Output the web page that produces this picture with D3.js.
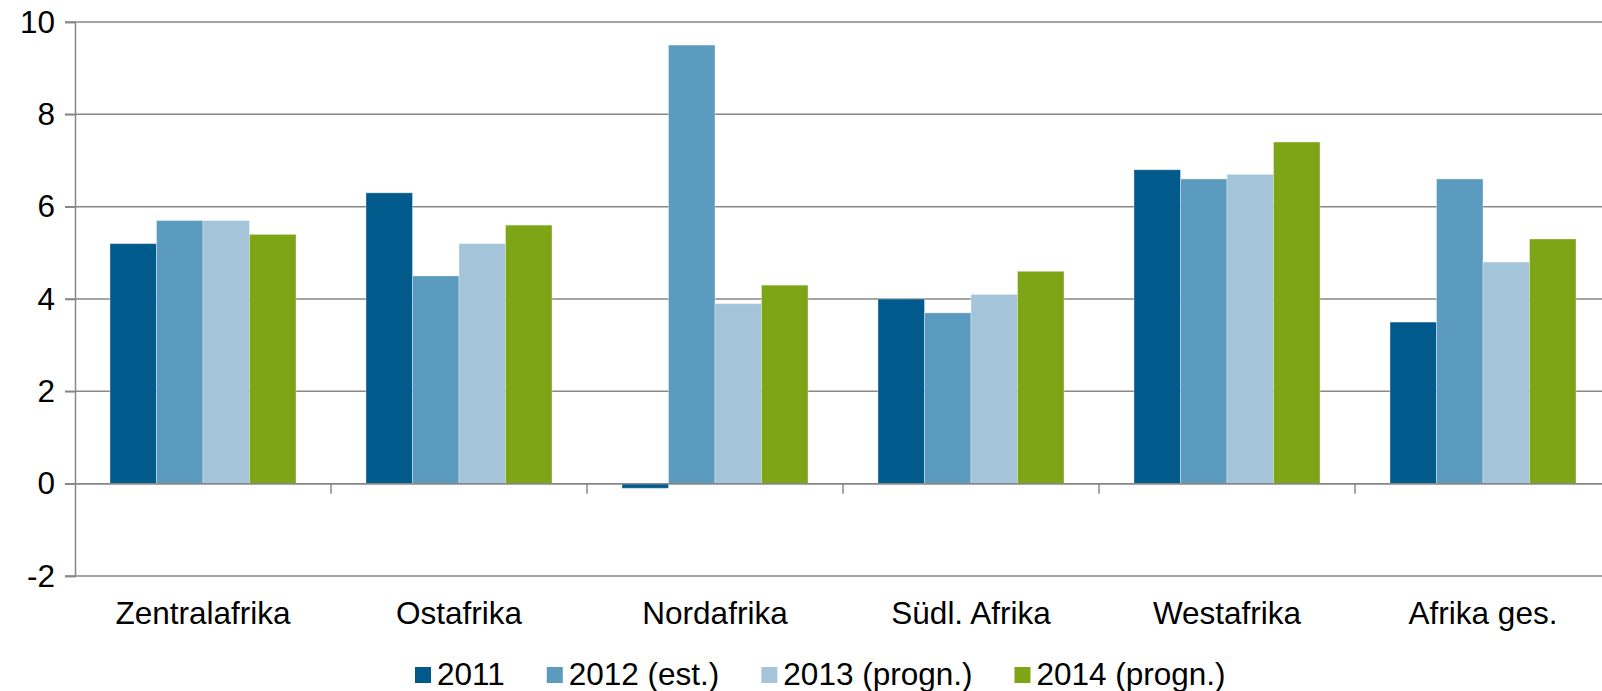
<!DOCTYPE html>
<html>
<head>
<meta charset="utf-8">
<script src="https://cdn.jsdelivr.net/npm/d3@7"></script>
<style>
	body { margin: 0; background: #fff; overflow: hidden; }
	text { font-family: "Liberation Sans", Arial, sans-serif; fill: #000; }
</style>
</head>
<body>
<script>
// * Data
const categories = ["Zentralafrika", "Ostafrika", "Nordafrika", "Südl. Afrika", "Westafrika", "Afrika ges."];
const seriesNames = ["2011", "2012 (est.)", "2013 (progn.)", "2014 (progn.)"];
const values2011 = [5.2, 6.3, -0.1, 4.0, 6.8, 3.5];
const values2012 = [5.7, 4.5, 9.5, 3.7, 6.6, 6.6];
const values2013 = [5.7, 5.2, 3.9, 4.1, 6.7, 4.8];
const values2014 = [5.4, 5.6, 4.3, 4.6, 7.4, 5.3];
const yTicks = [-2, 0, 2, 4, 6, 8, 10];
const colors = ["#005a8c", "#5b9bbf", "#a3c4d9", "#7da515"];

const allSeries = [values2011, values2012, values2013, values2014];

// * Size & Margins
let width = 1602;
let height = 691;
const plot = { left: 75, right: 1611, top: 22, bottom: 576 };

var svg = d3
	.select("body")
	.append("svg")
	.attr("width", width)
	.attr("height", height);

// * Scales
const x0 = d3
	.scaleBand()
	.domain(categories)
	.range([plot.left, plot.right])
	.paddingInner(0.2734)
	.paddingOuter(0.1367);

const x1 = d3
	.scaleBand()
	.domain(d3.range(seriesNames.length))
	.range([0, x0.bandwidth()]);

const y = d3.scaleLinear().domain([-2, 10]).range([plot.bottom, plot.top]);

// * Gridlines
svg.append("g")
	.selectAll("line")
	.data(yTicks)
	.join("line")
	.attr("x1", plot.left - 10)
	.attr("x2", plot.right)
	.attr("y1", (d) => y(d))
	.attr("y2", (d) => y(d))
	.attr("stroke", "#878787")
	.attr("stroke-width", 1.5);

// * Y axis
const yAxis = svg
	.append("g")
	.attr("transform", `translate(${plot.left},0)`)
	.call(d3.axisLeft(y).tickValues(yTicks).tickSize(10).tickPadding(10).tickFormat((d) => String(d)));
yAxis.select(".domain").attr("stroke", "#878787").attr("stroke-width", 1.5);
yAxis.selectAll(".tick line").attr("stroke", "#878787").attr("stroke-width", 1.5);
yAxis.selectAll(".tick text")
	.attr("font-size", "31.5px")
	.attr("font-family", "Liberation Sans, Arial, sans-serif")
	.attr("fill", "#000");

// * Bars
svg.append("g")
	.selectAll("g")
	.data(allSeries)
	.join("g")
	.attr("fill", (d, i) => colors[i])
	.each(function (vals, si) {
		d3.select(this)
			.selectAll("rect")
			.data(vals)
			.join("rect")
			.attr("x", (d, ci) => x0(categories[ci]) + x1(si))
			.attr("width", x1.bandwidth())
			.attr("y", (d) => y(Math.max(0, d)))
			.attr("height", (d) => Math.abs(y(d) - y(0)))
			.attr("stroke", "rgba(255,255,255,0.35)")
			.attr("stroke-width", 1);
	});

// * X axis (at zero)
const xAxis = svg
	.append("g")
	.attr("transform", `translate(0,${y(0)})`);
xAxis.append("line")
	.attr("x1", plot.left)
	.attr("x2", plot.right)
	.attr("stroke", "#878787")
	.attr("stroke-width", 1.5);
xAxis.selectAll(".ctick")
	.data(categories.slice(1))
	.join("line")
	.attr("class", "ctick")
	.attr("x1", (d) => x0(d) - (x0.step() - x0.bandwidth()) / 2)
	.attr("x2", (d) => x0(d) - (x0.step() - x0.bandwidth()) / 2)
	.attr("y1", 0)
	.attr("y2", 10)
	.attr("stroke", "#878787")
	.attr("stroke-width", 1.5);

// * Category labels
svg.append("g")
	.selectAll("text")
	.data(categories)
	.join("text")
	.attr("x", (d) => x0(d) + x0.bandwidth() / 2)
	.attr("y", 624)
	.attr("text-anchor", "middle")
	.attr("font-size", "31.5px")
	.text((d) => d);

// * Legend
const legend = svg.append("g").attr("id", "legend");
let lx = 415;
seriesNames.forEach((name, i) => {
	const item = legend.append("g").attr("transform", `translate(${lx},0)`);
	item.append("rect")
		.attr("x", 0)
		.attr("y", 667)
		.attr("width", 16)
		.attr("height", 16)
		.attr("fill", colors[i]);
	const t = item
		.append("text")
		.attr("x", 22)
		.attr("y", 685)
		.attr("font-size", "31.5px")
		.text(name);
	const w = t.node().getComputedTextLength();
	lx += 22 + w + 42;
});
</script>
</body>
</html>
